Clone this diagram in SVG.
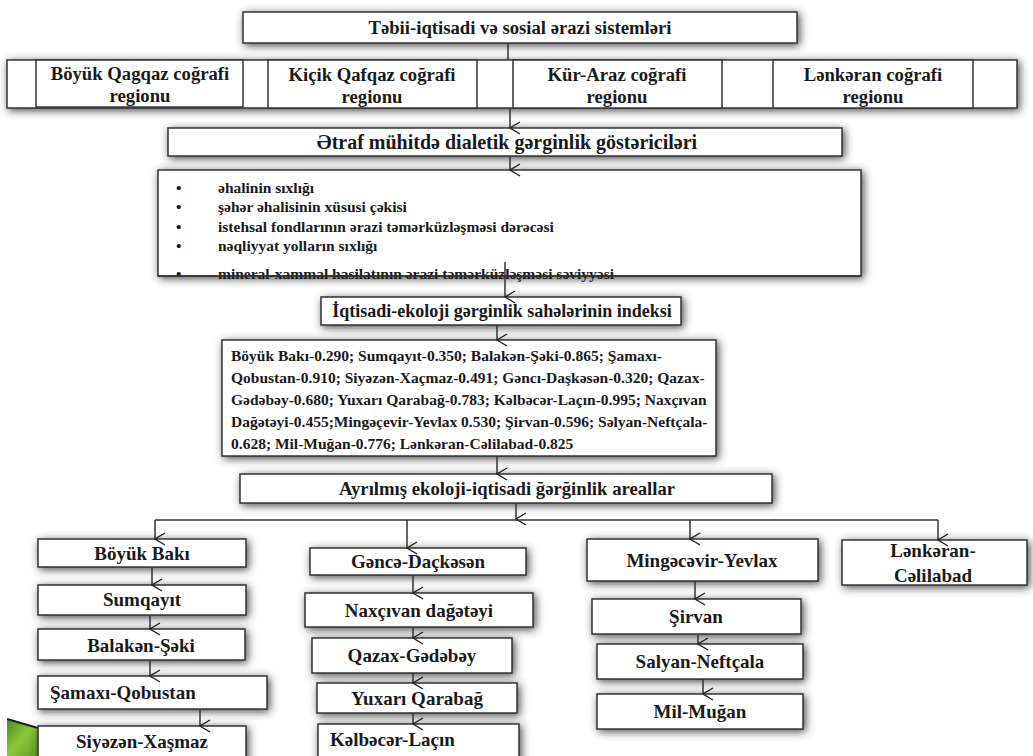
<svg xmlns="http://www.w3.org/2000/svg" width="1033" height="756" viewBox="0 0 1033 756">
<defs>
<filter id="sh" x="-10%" y="-40%" width="120%" height="180%">
<feGaussianBlur in="SourceAlpha" stdDeviation="4"/>
<feOffset dx="2" dy="1.5" result="b"/>
<feFlood flood-color="#333" flood-opacity="0.9"/>
<feComposite in2="b" operator="in"/>
<feMerge><feMergeNode/><feMergeNode in="SourceGraphic"/></feMerge>
</filter>
<marker id="ar" viewBox="0 0 14 14" refX="7" refY="13" markerWidth="14" markerHeight="14" markerUnits="userSpaceOnUse" orient="auto-start-reverse">
<path d="M1,3 L7,13 L13,3" fill="none" stroke="#222" stroke-width="1.4"/>
</marker>
<linearGradient id="gr" x1="0" y1="0" x2="1" y2="1">
<stop offset="0" stop-color="#4e8a1c"/>
<stop offset="0.5" stop-color="#8cc63a"/>
<stop offset="1" stop-color="#5f9e22"/>
</linearGradient>
</defs>
<style>
.b{fill:#fff;stroke:#333;stroke-width:1.5}
.t{font-weight:bold;fill:#1a1a1a}
.c{text-anchor:middle}
.h{font-size:18.7px}
.q{font-size:18px}
.e{font-size:20px}
.n{font-size:19px}
.x{font-size:15.5px}
.s{font-size:15.5px}
.l{fill:none;stroke:#333;stroke-width:1.5}
.a{fill:none;stroke:#333;stroke-width:1.5;marker-end:url(#ar)}
</style>

<g id="decor">
<polygon points="7,719 38,728 38,756 7,756" fill="url(#gr)"/>
<line x1="7" y1="719" x2="38" y2="728" stroke="#1a2a10" stroke-width="2"/>
</g>

<g font-family="Liberation Serif, Times New Roman, serif">
<g id="top">
<rect class="b" x="243" y="12" width="554" height="31" filter="url(#sh)"/>
<text class="t c h" x="520" y="34">Təbii-iqtisadi və sosial ərazi sistemləri</text>
</g>

<g id="band">
<rect class="b" x="7" y="60" width="1010" height="48" filter="url(#sh)"/>
</g>
<g id="r1">
<rect class="b" x="36" y="60" width="207" height="47"/>
<text class="t c h" x="140" y="80">Böyük Qagqaz coğrafi</text>
<text class="t c h" x="140" y="102">regionu</text>
</g>
<g id="r2">
<rect class="b" x="268" y="60" width="209" height="48"/>
<text class="t c h" x="372" y="81">Kiçik Qafqaz coğrafi</text>
<text class="t c h" x="372" y="103">regionu</text>
</g>
<g id="r3">
<rect class="b" x="513" y="60" width="209" height="48"/>
<text class="t c h" x="617" y="81">Kür-Araz coğrafi</text>
<text class="t c h" x="617" y="103">regionu</text>
</g>
<g id="r4">
<rect class="b" x="773" y="60" width="200" height="48"/>
<text class="t c h" x="873" y="81">Lənkəran coğrafi</text>
<text class="t c h" x="873" y="103">regionu</text>
</g>

<g id="etraf">
<rect class="b" x="168" y="128" width="674" height="28" filter="url(#sh)"/>
<text class="t c e" x="507" y="149">Ətraf mühitdə dialetik gərginlik göstəriciləri</text>
</g>

<g id="bullets">
<rect class="b" x="158" y="170" width="703" height="106" filter="url(#sh)"/>
<g class="t s">
<text x="176" y="193">•</text><text x="218" y="193">əhalinin sıxlığı</text>
<text x="176" y="212">•</text><text x="218" y="212">şəhər əhalisinin xüsusi çəkisi</text>
<text x="176" y="232">•</text><text x="218" y="232">istehsal fondlarının ərazi təmərküzləşməsi dərəcəsi</text>
<text x="176" y="251">•</text><text x="218" y="251">nəqliyyat yolların sıxlığı</text>
<text x="176" y="279">•</text><text x="218" y="279">mineral-xammal hasilatının ərazi təmərküzləşməsi səviyyəsi</text>
</g>
<line x1="158" y1="276" x2="861" y2="276" stroke="#333" stroke-width="1.5"/>
</g>

<g id="iqtisadi">
<rect class="b" x="321" y="297" width="360" height="28" filter="url(#sh)"/>
<text class="t c q" x="502" y="317">İqtisadi-ekoloji gərginlik sahələrinin indeksi</text>
</g>

<g id="index">
<rect class="b" x="222" y="340" width="494" height="116" filter="url(#sh)"/>
<g class="t x">
<text x="231" y="361">Böyük Bakı-0.290; Sumqayıt-0.350; Balakən-Şəki-0.865; Şamaxı-</text>
<text x="231" y="383">Qobustan-0.910; Siyəzən-Xaçmaz-0.491; Gəncı-Daşkəsən-0.320; Qazax-</text>
<text x="231" y="405">Gədəbəy-0.680; Yuxarı Qarabağ-0.783; Kəlbəcər-Laçın-0.995; Naxçıvan</text>
<text x="231" y="427">Dağətəyi-0.455;Mingəçevir-Yevlax 0.530; Şirvan-0.596; Səlyan-Neftçala-</text>
<text x="231" y="449">0.628; Mil-Muğan-0.776; Lənkəran-Cəlilabad-0.825</text>
</g>
</g>

<g id="ayrilmis">
<rect class="b" x="240" y="474" width="532" height="29" filter="url(#sh)"/>
<text class="t c h" x="507" y="495">Ayrılmış ekoloji-iqtisadi ğərğinlik areallar</text>
</g>

<g id="n-boyukbaki"><rect class="b" x="38" y="539" width="208" height="28" filter="url(#sh)"/><text class="t c n" x="142" y="560">Böyük Bakı</text></g>
<g id="n-sumqayit"><rect class="b" x="38" y="585" width="208" height="30" filter="url(#sh)"/><text class="t c n" x="142" y="606">Sumqayıt</text></g>
<g id="n-balaken"><rect class="b" x="38" y="629" width="207" height="31" filter="url(#sh)"/><text class="t c n" x="141" y="652">Balakən-Şəki</text></g>
<g id="n-samaxi"><rect class="b" x="38" y="676" width="229" height="33" filter="url(#sh)"/><text class="t n" x="50" y="699">Şamaxı-Qobustan</text></g>
<g id="n-siyezen"><rect class="b" x="38" y="726" width="208" height="40" filter="url(#sh)"/><text class="t c n" x="142" y="748">Siyəzən-Xaşmaz</text></g>

<g id="n-gence"><rect class="b" x="310" y="548" width="216" height="27" filter="url(#sh)"/><text class="t c n" x="418" y="568">Gəncə-Daçkəsən</text></g>
<g id="n-naxcivan"><rect class="b" x="305" y="593" width="228" height="34" filter="url(#sh)"/><text class="t c n" x="419" y="617">Naxçıvan dağətəyi</text></g>
<g id="n-qazax"><rect class="b" x="312" y="638" width="200" height="35" filter="url(#sh)"/><text class="t c n" x="412" y="662">Qazax-Gədəbəy</text></g>
<g id="n-yuxari"><rect class="b" x="317" y="683" width="200" height="30" filter="url(#sh)"/><text class="t c n" x="417" y="705">Yuxarı Qarabağ</text></g>
<g id="n-kelbecer"><rect class="b" x="318" y="724" width="201" height="40" filter="url(#sh)"/><text class="t n" x="330" y="746">Kəlbəcər-Laçın</text></g>

<g id="n-mingecevir"><rect class="b" x="587" y="539" width="231" height="42" filter="url(#sh)"/><text class="t c n" x="702" y="567">Mingəcəvir-Yevlax</text></g>
<g id="n-sirvan"><rect class="b" x="592" y="599" width="209" height="35" filter="url(#sh)"/><text class="t c n" x="696" y="623">Şirvan</text></g>
<g id="n-salyan"><rect class="b" x="597" y="644" width="206" height="35" filter="url(#sh)"/><text class="t c n" x="700" y="668">Salyan-Neftçala</text></g>
<g id="n-milmugan"><rect class="b" x="597" y="694" width="206" height="35" filter="url(#sh)"/><text class="t c n" x="700" y="718">Mil-Muğan</text></g>

<g id="n-lenkeran"><rect class="b" x="842" y="540" width="185" height="45" filter="url(#sh)"/><text class="t c n" x="933" y="557">Lənkəran-</text><text class="t c n" x="933" y="582">Cəlilabad</text></g>
</g>

<g id="connectors">
<line class="l" x1="508" y1="43" x2="508" y2="60"/>
<line class="a" x1="510" y1="108" x2="510" y2="128"/>
<line class="a" x1="510" y1="156" x2="510" y2="170"/>
<line class="a" x1="505" y1="262" x2="505" y2="297"/>
<line class="a" x1="497" y1="325" x2="497" y2="340"/>
<line class="a" x1="497" y1="456" x2="497" y2="474"/>
<line class="a" x1="516" y1="503" x2="516" y2="519"/>
<line class="l" x1="155" y1="520" x2="938" y2="520"/>
<line class="a" x1="155" y1="520" x2="155" y2="539"/>
<line class="a" x1="407" y1="520" x2="407" y2="548"/>
<line class="a" x1="690" y1="520" x2="690" y2="539"/>
<line class="a" x1="938" y1="520" x2="938" y2="540"/>
<line class="a" x1="152" y1="567" x2="152" y2="585"/>
<line class="a" x1="150" y1="615" x2="150" y2="629"/>
<line class="a" x1="150" y1="660" x2="150" y2="676"/>
<line class="a" x1="200" y1="709" x2="200" y2="726"/>
<line class="a" x1="413" y1="575" x2="413" y2="593"/>
<line class="a" x1="413" y1="627" x2="413" y2="638"/>
<line class="a" x1="413" y1="673" x2="413" y2="683"/>
<line class="a" x1="413" y1="713" x2="413" y2="724"/>
<line class="a" x1="695" y1="581" x2="695" y2="599"/>
<line class="a" x1="698" y1="634" x2="698" y2="644"/>
<line class="a" x1="703" y1="679" x2="703" y2="694"/>
</g>
</svg>
